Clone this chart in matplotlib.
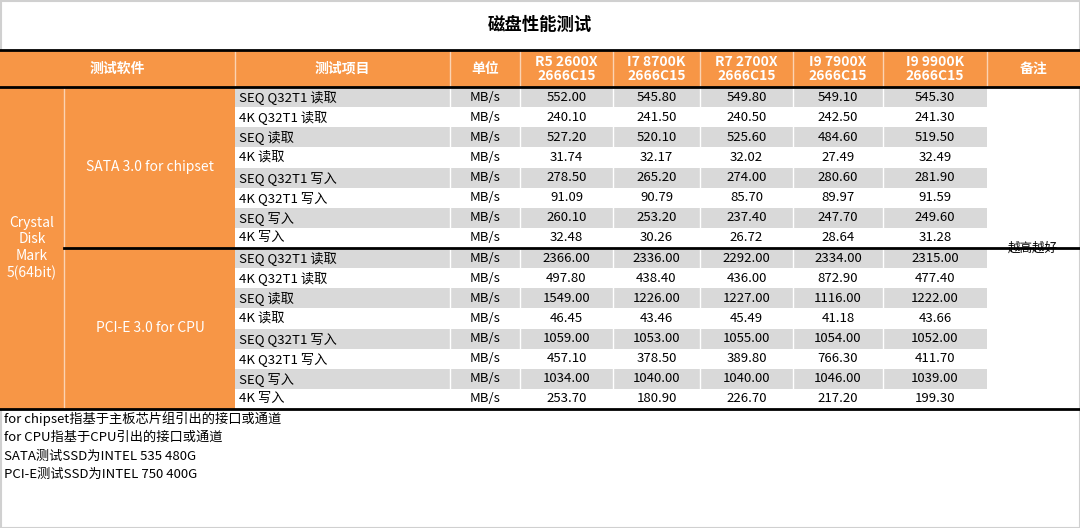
import matplotlib
matplotlib.use("Agg")
import matplotlib.pyplot as plt
from matplotlib.patches import Rectangle

plt.rcParams['font.family'] = ['Noto Sans CJK SC', 'DejaVu Sans']

title = "磁盘性能测试"
headers = ["测试软件", "测试项目", "单位", "R5 2600X\n2666C15", "I7 8700K\n2666C15",
           "R7 2700X\n2666C15", "I9 7900X\n2666C15", "I9 9900K\n2666C15", "备注"]
software = "Crystal\nDisk\nMark\n5(64bit)"
groups = ["SATA 3.0 for chipset", "PCI-E 3.0 for CPU"]
items = ["SEQ Q32T1 读取", "4K Q32T1 读取", "SEQ 读取", "4K 读取",
         "SEQ Q32T1 写入", "4K Q32T1 写入", "SEQ 写入", "4K 写入"]
unit = "MB/s"
r5_2600x = [552.00, 240.10, 527.20, 31.74, 278.50, 91.09, 260.10, 32.48,
            2366.00, 497.80, 1549.00, 46.45, 1059.00, 457.10, 1034.00, 253.70]
i7_8700k = [545.80, 241.50, 520.10, 32.17, 265.20, 90.79, 253.20, 30.26,
            2336.00, 438.40, 1226.00, 43.46, 1053.00, 378.50, 1040.00, 180.90]
r7_2700x = [549.80, 240.50, 525.60, 32.02, 274.00, 85.70, 237.40, 26.72,
            2292.00, 436.00, 1227.00, 45.49, 1055.00, 389.80, 1040.00, 226.70]
i9_7900x = [549.10, 242.50, 484.60, 27.49, 280.60, 89.97, 247.70, 28.64,
            2334.00, 872.90, 1116.00, 41.18, 1054.00, 766.30, 1046.00, 217.20]
i9_9900k = [545.30, 241.30, 519.50, 32.49, 281.90, 91.59, 249.60, 31.28,
            2315.00, 477.40, 1222.00, 43.66, 1052.00, 411.70, 1039.00, 199.30]
remark = "越高越好"
notes = ["for chipset指基于主板芯片组引出的接口或通道",
         "for CPU指基于CPU引出的接口或通道",
         "SATA测试SSD为INTEL 535 480G",
         "PCI-E测试SSD为INTEL 750 400G"]

series = [r5_2600x, i7_8700k, r7_2700x, i9_7900x, i9_9900k]
ORANGE = "#f79646"
GRAY = "#d9d9d9"

fig = plt.figure(figsize=(10.8, 5.28), dpi=100)
ax = fig.add_axes([0, 0, 1, 1])
ax.set_xlim(0, 1080); ax.set_ylim(528, 0); ax.axis('off')

xs = [0, 64, 235, 450, 520, 613, 700, 793, 883, 987, 1080]
top, hb = 50, 87
rh = (409 - 87) / 16
nrows = 16

ax.add_patch(Rectangle((0.5, 0.5), 1079, 527, fill=False, ec="#d0d0d0", lw=1.5))
ax.text(540, 25, title, ha='center', va='center', fontsize=12.5, fontweight='bold')

# header
ax.add_patch(Rectangle((0, top), 1080, hb - top, fc=ORANGE, ec='none'))
hcols = [(0, 235)] + [(xs[i], xs[i + 1]) for i in range(2, 10)]
for (x0, x1), h in zip(hcols, headers):
    ax.text((x0 + x1) / 2, (top + hb) / 2, h, ha='center', va='center', color='white',
            fontsize=10, fontweight='bold', linespacing=1.0)
    if x1 < 1080:
        ax.plot([x1, x1], [top, hb], color='#fbd3b3', lw=1)

# left orange blocks
ax.add_patch(Rectangle((0, hb), 235, 409 - hb, fc=ORANGE, ec='none'))
ax.plot([64, 64], [hb, 409], color='#fbd3b3', lw=1)
ax.text(32, 248, software, ha='center', va='center', color='white', fontsize=10, linespacing=1.25)
for g, name in enumerate(groups):
    ax.text(150, hb + rh * (8 * g + 4), name, ha='center', va='center', color='white', fontsize=10)

for r in range(nrows):
    y0 = hb + r * rh
    if r % 2 == 0:
        ax.add_patch(Rectangle((235, y0), 987 - 235, rh, fc=GRAY, ec='none'))
        for x in xs[3:9]:
            ax.plot([x, x], [y0, y0 + rh], color='white', lw=1)
    yc = y0 + rh / 2
    ax.text(239, yc, items[r % 8], ha='left', va='center', fontsize=9.5)
    ax.text((xs[3] + xs[4]) / 2, yc, unit, ha='center', va='center', fontsize=9.5)
    for j, s in enumerate(series):
        ax.text((xs[4 + j] + xs[5 + j]) / 2, yc, f"{s[r]:.2f}", ha='center', va='center', fontsize=9.5)

ax.text(1033, 248, remark, ha='center', va='center', fontsize=9)

# thick lines
ax.plot([0, 1080], [top, top], color='black', lw=2)
ax.plot([0, 1080], [hb, hb], color='black', lw=2)
ax.plot([64, 1080], [248, 248], color='black', lw=2)
ax.plot([0, 1080], [409, 409], color='black', lw=2)

for i, n in enumerate(notes):
    ax.text(4, 419 + i * 18.5, n, ha='left', va='center', fontsize=9.5)

fig.savefig("out.png", dpi=100)
